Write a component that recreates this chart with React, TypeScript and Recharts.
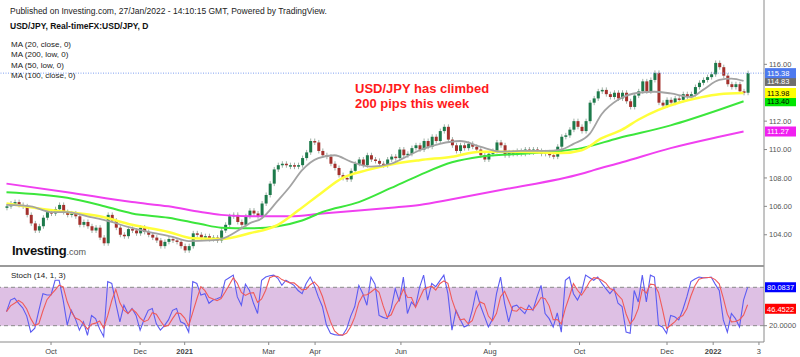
import React from 'react';
import { ComposedChart, Bar, Line, XAxis, YAxis, ReferenceLine, ReferenceArea } from 'recharts';

// daily USD/JPY closes, sampled every 2nd session from early Sep 2020 to 27 Jan 2022
const closes = [
  106.0, 106.2, 106.3, 106.1, 106.0, 105.4, 104.8, 104.3, 104.6, 105.2,
  105.6, 105.5, 105.8, 106.1, 105.6, 105.4, 105.5, 105.3, 104.7, 104.9,
  104.6, 104.3, 104.5, 103.8, 103.4, 105.4, 105.0, 104.5, 104.0, 103.9,
  104.4, 104.3, 104.1, 104.5, 104.2, 104.0, 103.8, 103.6, 103.2, 103.5,
  103.7, 103.6, 103.5, 103.2, 102.9, 103.2, 104.1, 104.0, 103.8, 103.9,
  103.7, 103.8, 103.6, 104.3, 104.7, 105.3, 105.4, 104.9, 104.7, 105.3,
  105.7, 105.5, 105.3, 106.2, 106.8, 107.6, 108.6, 108.9, 109.0, 108.9,
  108.9, 108.8, 108.9, 109.4, 109.8, 110.6, 110.5, 109.9, 109.6, 109.5,
  109.0, 108.7, 108.2, 108.0, 107.9, 108.5, 109.0, 109.3, 108.9, 109.6,
  109.3, 109.2, 109.0, 108.9, 109.3, 109.5, 109.4, 110.0, 109.6, 109.7,
  110.1, 110.3, 110.0, 110.6, 110.2, 110.9, 110.6, 111.3, 111.6, 110.7,
  110.3, 109.9, 110.3, 110.1, 110.4, 110.2, 110.0, 109.6, 109.3, 109.7,
  109.9, 110.5, 110.3, 109.6, 109.8, 109.7, 109.9, 109.7, 110.0, 109.8,
  110.0, 109.9, 109.7, 109.8, 109.6, 109.5, 110.2, 110.9, 111.0, 111.4,
  112.0, 111.6, 111.3, 112.0, 113.3, 113.6, 114.1, 114.2, 113.9, 113.7,
  114.0, 113.6, 114.0, 113.4, 113.0, 113.8, 114.1, 114.8, 114.1, 114.9,
  115.4, 113.3, 113.1, 113.5, 113.3, 113.6, 113.5, 113.9, 113.7, 113.9,
  114.4, 114.7, 114.9, 115.1, 115.3, 116.1, 115.8, 115.2, 114.6, 114.4,
  114.6, 114.1, 114.0, 115.38,
];

// moving averages: [candle index, value]
const ma20: [number, number][] = [
  [0, 106.1], [6, 106.0], [11, 105.6], [15, 105.6], [20, 105.3], [26, 104.9], [30, 104.55],
  [35, 104.2], [41, 103.85], [45, 103.55], [50, 103.6], [53, 103.7], [58, 104.45], [60, 104.8],
  [63, 105.15], [67, 106.4], [70, 107.4], [73, 108.55], [77, 109.4], [81, 109.6], [85, 109.15],
  [90, 108.8], [95, 109.0], [97, 109.25], [102, 109.95], [107, 110.4], [112, 110.6], [117, 110.2],
  [122, 109.85], [127, 109.9], [133, 109.9], [137, 110.0], [140, 110.4], [144, 111.1], [147, 112.5],
  [151, 113.5], [156, 114.0], [160, 114.07], [164, 113.95], [169, 113.7], [172, 114.2], [176, 114.9],
  [179, 115.0], [182, 114.83],
];
const ma50: [number, number][] = [
  [0, 106.2], [8, 105.85], [15, 105.6], [23, 105.3], [31, 104.7], [40, 104.2], [46, 103.75],
  [53, 103.7], [60, 104.1], [67, 104.7], [72, 105.7], [78, 107.0], [83, 108.0], [89, 108.55],
  [95, 108.95], [102, 109.25], [110, 109.5], [117, 109.85], [127, 109.85], [137, 109.75],
  [142, 109.95], [147, 110.8], [152, 111.4], [156, 112.1], [161, 112.8], [166, 113.3],
  [171, 113.65], [176, 113.9], [182, 113.98],
];
const ma100: [number, number][] = [
  [0, 107.0], [15, 106.6], [23, 106.1], [31, 105.5], [40, 105.2], [48, 104.75], [53, 104.5],
  [60, 104.45], [67, 104.6], [73, 105.0], [78, 105.6], [87, 106.3], [95, 107.3], [102, 108.2],
  [110, 109.1], [117, 109.5], [127, 109.7], [137, 109.9], [142, 110.1], [151, 110.8],
  [164, 111.7], [176, 112.8], [182, 113.4],
];
const ma200: [number, number][] = [
  [0, 107.6], [15, 107.0], [31, 106.3], [40, 106.0], [48, 105.6], [53, 105.4], [60, 105.3],
  [70, 105.3], [78, 105.5], [87, 105.7], [95, 105.9], [102, 106.1], [110, 106.5], [123, 107.2],
  [142, 108.3], [145, 108.55], [152, 109.1], [164, 110.1], [176, 110.9], [182, 111.27],
];

// stochastic %K (blue), same sampling as closes
const stochK = [
  42, 60, 63, 55, 48, 35, 10, 16, 44, 70,
  68, 68, 91, 91, 60, 21, 44, 31, 13, 26,
  5, 36, 31, 15, 3, 89, 86, 55, 26, 52,
  39, 47, 36, 13, 30, 44, 47, 23, 13, 20,
  29, 44, 47, 26, 23, 10, 89, 86, 68, 70,
  55, 60, 62, 65, 91, 95, 99, 65, 52, 85,
  75, 55, 39, 91, 96, 98, 99, 94, 83, 91,
  87, 83, 75, 70, 86, 96, 83, 65, 50, 21,
  8, 6, 5, 5, 15, 35, 50, 83, 70, 52,
  96, 85, 36, 33, 31, 47, 78, 58, 96, 39,
  57, 50, 80, 99, 60, 86, 81, 90, 99, 70,
  13, 44, 30, 18, 21, 44, 75, 52, 35, 18,
  30, 70, 96, 55, 26, 50, 52, 45, 39, 52,
  44, 65, 83, 39, 31, 18, 40, 10, 91, 96,
  70, 60, 73, 99, 95, 91, 96, 86, 78, 70,
  78, 55, 50, 10, 8, 75, 57, 99, 57, 99,
  96, 21, 18, 8, 36, 34, 29, 45, 65, 89,
  93, 96, 95, 95, 96, 85, 75, 29, 10, 39,
  31, 18, 60, 80,
];

const lastClose = 115.38;
const maLast = [114.83, 113.98, 113.4, 111.27]; // MA20, MA50, MA100, MA200
const stochLast = [80.0837, 46.4522]; // %K, %D

// 114.00 sits under the price tags, as in the original
const priceTicks = [102, 104, 106, 108, 110, 112, 116];
const stochTicks = [0, 20];
// trading-day offsets from 1 Oct 2020
const timeTicks = [0, 44, 66, 107.5, 130.4, 172.8, 216.8, 261, 304.2, 327, 349.6];
const timeLabels = ['Oct', 'Dec', '2021', 'Mar', 'Apr', 'Jun', 'Aug', 'Oct', 'Dec', '2022', '3'];
const maLegend = ['MA (20, close, 0)', 'MA (200, low, 0)', 'MA (50, low, 0)', 'MA (100, close, 0)'];

const firstDay = -22;
const dayStep = 2;
const xDomain: [number, number] = [-25.2, 352.1];
const dayOf = (i: number) => firstDay + i * dayStep;

const rows = closes.map((c, i) => {
  const o = i === 0 ? c : closes[i - 1];
  return { x: dayOf(i), lo: Math.min(o, c), hi: Math.max(o, c), up: c >= o };
});
const maRows = (pts: [number, number][]) => pts.map(([i, v]) => ({ x: dayOf(i), v }));

const stochRows = stochK.map((k, i) => {
  const win = stochK.slice(Math.max(0, i - 2), i + 1);
  return { x: dayOf(i), k, d: win.reduce((a, b) => a + b, 0) / win.length };
});

// body plus a short grey wick (wick length is only a drawing style)
const Candle = (p: any) => {
  const { x, y, width, height, payload } = p;
  const fill = payload.up ? '#1d7a4b' : '#a3302c';
  const h = Math.max(height, 1.5);
  const cx = x + width / 2;
  return (
    <g>
      <line x1={cx} x2={cx} y1={y - 2.5} y2={y + h + 2.5} stroke="#9fb0a6" strokeWidth={1} />
      <rect x={x} y={y} width={width} height={h} fill={fill} />
    </g>
  );
};

const tag = (text: string, bg: string, fg: string) => (p: any) => {
  const y = p.viewBox ? p.viewBox.y : 0;
  return (
    <g>
      <rect x={765} y={y - 5} width={31} height={10} fill={bg} />
      <text x={767} y={y + 2.8} fontSize={7.5} fill={fg}>{text}</text>
    </g>
  );
};

const TimeTick = (p: any) => {
  const { x, y, payload } = p;
  const label = timeLabels[timeTicks.indexOf(payload.value)] || '';
  const bold = /^\d{4}$/.test(label);
  return (
    <text x={x} y={y + 7} textAnchor="middle" fontSize={7.5} fontWeight={bold ? 700 : 400} fill="#444">{label}</text>
  );
};

const abs = (left: number, top: number, extra: any = {}) => ({ position: 'absolute' as const, left, top, whiteSpace: 'nowrap' as const, ...extra });

export default function App() {
  const axisTick = { fontSize: 7.5, fill: '#555' };
  const maLine = (rowsIn: any[], color: string, w: number, name: string) => (
    <Line key={name} data={rowsIn} dataKey="v" name={name} type="monotone" stroke={color} strokeWidth={w}
      dot={false} activeDot={false} isAnimationActive={false} />
  );
  return (
    <div style={{ position: 'absolute', left: 0, top: 0, width: 800, height: 357, background: '#fff', overflow: 'hidden', fontFamily: '"Liberation Sans", Arial, sans-serif' }}>
      <div style={abs(0, 0)}>
        <ComposedChart width={800} height={266} data={rows} margin={{ top: 0, right: 0, bottom: 0, left: 0 }}>
          <XAxis dataKey="x" type="number" domain={xDomain} hide allowDataOverflow />
          <YAxis orientation="right" width={36} domain={[101.8, 120.53]} ticks={priceTicks} allowDataOverflow
            tickFormatter={(v: number) => v.toFixed(2)} tick={axisTick} tickSize={3} tickMargin={2}
            axisLine={{ stroke: '#8a8a8a' }} tickLine={{ stroke: '#8a8a8a' }} />
          <ReferenceLine y={lastClose} stroke="#7f9ff0" strokeDasharray="1 1.5" />
          <Bar dataKey={(d: any) => [d.lo, d.hi]} barSize={3} shape={Candle} isAnimationActive={false} />
          {maLine(maRows(ma200), '#f040f0', 2, 'ma200')}
          {maLine(maRows(ma100), '#3ce63c', 2, 'ma100')}
          {maLine(maRows(ma50), '#ffff3a', 2.5, 'ma50')}
          {maLine(maRows(ma20), '#a3a3a3', 1.8, 'ma20')}
          <ReferenceLine y={maLast[3]} stroke="none" label={tag(maLast[3].toFixed(2), '#f020f0', '#fff')} />
          <ReferenceLine y={maLast[2]} stroke="none" label={tag(maLast[2].toFixed(2), '#00e600', '#000')} />
          <ReferenceLine y={maLast[1]} stroke="none" label={tag(maLast[1].toFixed(2), '#ffff00', '#000')} />
          <ReferenceLine y={maLast[0]} stroke="none" label={tag(maLast[0].toFixed(2), '#6e6e6e', '#fff')} />
          <ReferenceLine y={lastClose} stroke="none" label={tag(lastClose.toFixed(2), '#4d79ee', '#fff')} />
        </ComposedChart>
      </div>

      <div style={abs(0, 266)}>
        <ComposedChart width={800} height={91} data={stochRows} margin={{ top: 0, right: 0, bottom: 0, left: 0 }}>
          <XAxis dataKey="x" type="number" domain={xDomain} allowDataOverflow ticks={timeTicks} interval={0}
            height={15} tick={<TimeTick />} tickSize={3} axisLine={{ stroke: '#8a8a8a' }} tickLine={{ stroke: '#8a8a8a' }} />
          <YAxis orientation="right" width={36} domain={[-5.5, 113.3]} ticks={stochTicks} allowDataOverflow
            tickFormatter={(v: number) => v.toFixed(4)} tick={axisTick} tickSize={3} tickMargin={2}
            axisLine={{ stroke: '#8a8a8a' }} tickLine={{ stroke: '#8a8a8a' }} />
          <ReferenceArea y1={20} y2={80} fill="#dec0e4" fillOpacity={1} stroke="none" />
          <ReferenceLine y={80} stroke="#8a8a8a" strokeDasharray="4 3" />
          <ReferenceLine y={20} stroke="#8a8a8a" strokeDasharray="4 3" />
          <Line dataKey="k" type="linear" stroke="#5c5cf2" strokeWidth={1.1} dot={false} activeDot={false} isAnimationActive={false} />
          <Line dataKey="d" type="linear" stroke="#f05a5a" strokeWidth={1.1} dot={false} activeDot={false} isAnimationActive={false} />
          <ReferenceLine y={stochLast[1]} stroke="none" label={tag(stochLast[1].toFixed(4), '#ff0000', '#fff')} />
          <ReferenceLine y={stochLast[0]} stroke="none" label={tag(stochLast[0].toFixed(4), '#0000ff', '#fff')} />
        </ComposedChart>
      </div>

      <div style={abs(0, 265, { width: 764, height: 1.5, background: '#9a9a9a' })} />

      <div style={abs(10, 6, { fontSize: 8.5, color: '#222' })}>Published on Investing.com, 27/Jan/2022 - 14:10:15 GMT, Powered by TradingView.</div>
      <div style={abs(10, 21, { fontSize: 8.5, fontWeight: 700, color: '#111' })}>USD/JPY, Real-timeFX:USD/JPY, D</div>
      {maLegend.map((t, i) => (
        <div key={t} style={abs(11, 40 + i * 10.4, { fontSize: 8, color: '#222' })}>{t}</div>
      ))}
      <div style={abs(11, 271, { fontSize: 8, color: '#222' })}>Stoch (14, 1, 3)</div>

      <div style={abs(355, 81, { fontSize: 13, fontWeight: 700, color: '#ff1a1a', lineHeight: '15px' })}>
        USD/JPY has climbed<br />200 pips this week
      </div>

      <div style={abs(12, 243, { fontSize: 13, fontWeight: 700, color: '#111', letterSpacing: -0.3 })}>
        Investing<span style={{ fontSize: 9, fontWeight: 400, color: '#555', letterSpacing: 0 }}>.com</span>
      </div>
    </div>
  );
}
